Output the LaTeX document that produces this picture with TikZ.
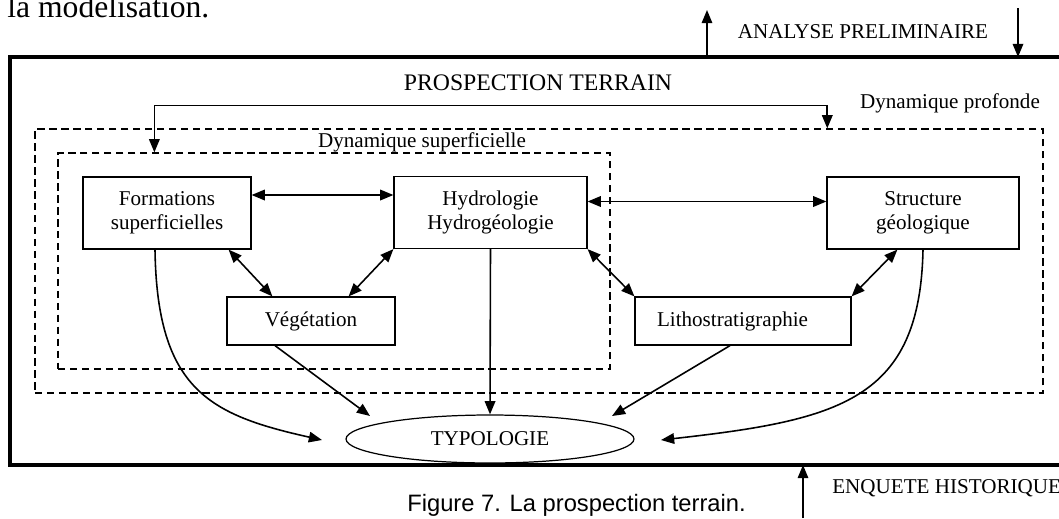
\documentclass[tikz,border=0pt]{standalone}
\usepackage{fontspec}
\setmainfont{Liberation Serif}
\newfontfamily\captionfont{Liberation Sans}
\usetikzlibrary{arrows.meta,shapes.geometric}

\begin{document}
\begin{tikzpicture}[
    x=0.02cm, y=-0.02cm,
    every node/.append style={font=\fontsize{12}{13.8}\selectfont},
    box/.style={rectangle, draw=black, line width=0.7pt, fill=white, align=center, inner sep=0pt, minimum height=1.44cm},
    smallbox/.style={box, minimum height=0.96cm},
    zone/.style={rectangle, draw=black, line width=0.75pt, dash pattern=on 4.2pt off 2.6pt, inner sep=0pt},
    link/.style={line width=0.9pt, >={Triangle[length=7.5pt,width=6pt]}},
    frame/.style={line width=1.9pt}
]
    \useasboundingbox (0,0) rectangle (1059,518);
    \clip (0,0) rectangle (1059,518);

    % texte de la page au-dessus
    \node[anchor=base west, inner sep=0pt, font=\fontsize{18}{20}\selectfont] (prev) at (7,17) {la modélisation.};

    % cadre de la prospection
    \draw[frame] (1070,57) -- (10,57) -- (10,465) -- (1070,465);
    \node[font=\fontsize{13.5}{16}\selectfont] (prosp) at (538,83) {PROSPECTION TERRAIN};

    % zones en pointilles
    \node[zone, minimum width=20.16cm, minimum height=5.28cm] (zprof) at (539,261) {};
    \node[zone, minimum width=11.04cm, minimum height=4.32cm] (zsup) at (334,261) {};
    \node (lprof) at (950,103) {Dynamique profonde};
    \node (lsup) at (422,142) {Dynamique superficielle};

    % thematiques
    \node[box, minimum width=3.36cm] (form) at (167,213) {Formations\\superficielles};
    \node[box, minimum width=3.86cm] (hydro) at (490.5,212.5) {Hydrologie\\Hydrogéologie};
    \node[box, minimum width=3.84cm] (struct) at (923,213) {Structure\\géologique};
    \node[smallbox, minimum width=3.36cm] (veget) at (311,321) {Végétation};
    \node[smallbox, text width=3.44cm, inner xsep=0.44cm, align=left] (litho) at (743,321) {Lithostratigraphie};
    \node[ellipse, draw, line width=0.7pt, inner sep=0pt, minimum width=5.76cm, minimum height=0.96cm] (typo) at (490,439) {TYPOLOGIE};

    % entrees et sorties du cadre
    \coordinate (anaIn) at (707,57);
    \coordinate (anaUp) at (707,10);
    \coordinate (anaTop) at (1018,8);
    \coordinate (anaOut) at (1018,57);
    \coordinate (enqIn) at (803,465);
    \coordinate (enqLow) at (803,518);
    \node (analyse) at (863,32) {ANALYSE PRELIMINAIRE};
    \node[anchor=west, inner sep=0pt] (enquete) at (832,488) {ENQUETE HISTORIQUE};
    \draw[link,->] (anaIn) -- (anaUp);
    \draw[link,->] (anaTop) -- (anaOut);
    \draw[link,->] (enqLow) -- (enqIn);

    % liens entre thematiques
    \draw[link,<->] ([xshift=1.94cm]zsup.north west) -- ++(0,0.94cm) -| ([xshift=15.86cm]zprof.north west);
    \draw[link,<->] ([yshift=3.6mm]form.east) -- ([yshift=3.6mm]form.east -| hydro.west);
    \draw[link,<->] ([yshift=2.2mm]hydro.east) -- ([yshift=2.2mm]hydro.east -| struct.west);
    \draw[link,<->] ([xshift=-4.6mm]form.south east) -- ([xshift=9.2mm]veget.north west);
    \draw[link,<->] (hydro.south west) -- ([xshift=-9.4mm]veget.north east);
    \draw[link,<->] (hydro.south east) -- (litho.north west);
    \draw[link,<->] ([xshift=14.2mm]struct.south west) -- (litho.north east);

    % vers la typologie
    \coordinate (tform) at (322,440);
    \coordinate (tveget) at (370,416);
    \coordinate (tlitho) at (612,416);
    \coordinate (tstruct) at (661,440);
    \draw[link,->] (hydro.south) -- (typo.north);
    \draw[link,->] ([xshift=-7.2mm]veget.south) -- (tveget);
    \draw[link,->] ([xshift=-2.6mm]litho.south) -- (tlitho);
    \draw[link,->] ([xshift=-2.4mm]form.south) .. controls (157,390) and (210,415) .. (tform);
    \draw[link,->] (struct.south) .. controls (920,400) and (840,420) .. (tstruct);

    % legende
    \node[anchor=west, inner sep=0pt, font=\captionfont\fontsize{13.5}{16}\selectfont] (caption) at (407,505) {Figure 7. La prospection terrain.};
\end{tikzpicture}
\end{document}
